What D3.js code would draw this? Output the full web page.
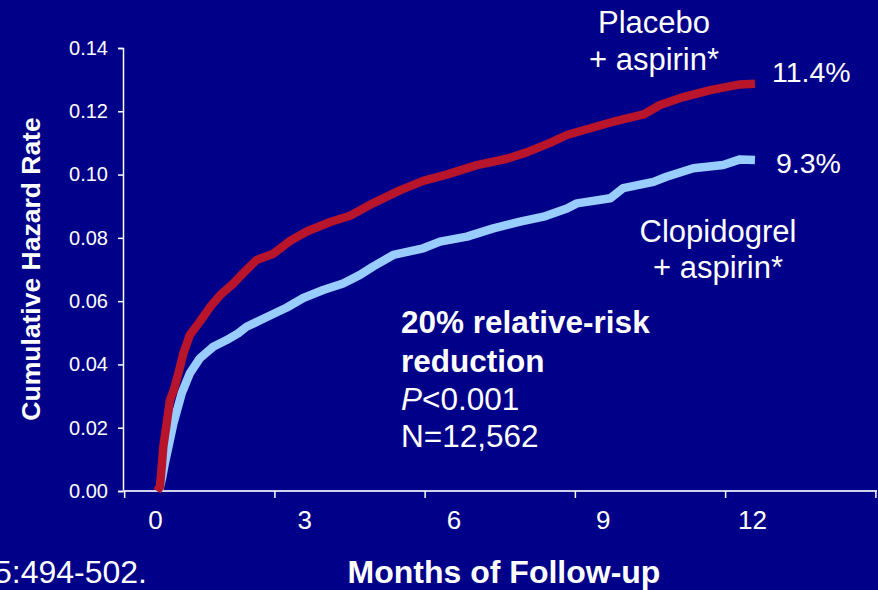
<!DOCTYPE html>
<html>
<head>
<meta charset="utf-8">
<script src="https://cdn.jsdelivr.net/npm/d3@7"></script>
<style>
  html, body { margin: 0; padding: 0; background: #000088; overflow: hidden; }
  text { font-family: Arial, "Liberation Sans", sans-serif; fill: #ffffff; }
</style>
</head>
<body>
<div id="chart"></div>
<script>
const navy = "#000088";
const red = "#b8142b";
const lightBlue = "#99ccff";
const white = "#ffffff";

// data (months of follow-up, cumulative hazard)
const placeboMonths = [0.04, 0.10, 0.135, 0.167, 0.235, 0.30, 0.38, 0.47, 0.57, 0.70, 0.90, 1.11, 1.31, 1.57, 1.77, 2.04, 2.38, 2.71, 3.05, 3.52, 3.92,
    4.39, 4.92, 5.39, 5.86, 6.47, 7.07, 7.47, 7.94, 8.28, 8.61, 9.28, 9.82, 10.15, 10.62, 11.16, 11.76, 12.06];
const placeboHazard = [0.000, 0.0014, 0.0077, 0.014, 0.0214, 0.0287, 0.032, 0.0372, 0.0435, 0.0493, 0.0535, 0.0582, 0.0619, 0.0655, 0.0688, 0.073, 0.075, 0.079, 0.082, 0.085, 0.087,
    0.091, 0.095, 0.098, 0.100, 0.103, 0.105, 0.107, 0.110, 0.1125, 0.114, 0.117, 0.119, 0.122, 0.1245, 0.1267, 0.1285, 0.1287];

const clopMonths = [0.08, 0.14, 0.20, 0.27, 0.37, 0.54, 0.70, 0.90, 1.17, 1.44, 1.67, 1.84, 2.25, 2.65, 2.98, 3.38, 3.78, 4.12,
    4.39, 4.79, 5.39, 5.73, 6.27, 6.80, 7.34, 7.81, 8.28, 8.48, 9.15, 9.41, 10.02, 10.28, 10.82, 11.42, 11.76, 12.06];
const clopHazard = [0.000, 0.004, 0.009, 0.014, 0.0214, 0.031, 0.0372, 0.0419, 0.0456, 0.0477, 0.0498, 0.0519, 0.055, 0.058, 0.061, 0.0635, 0.0656, 0.0683,
    0.071, 0.0746, 0.0767, 0.0788, 0.0804, 0.083, 0.0851, 0.0867, 0.0893, 0.0909, 0.0925, 0.0957, 0.0977, 0.0993, 0.102, 0.103, 0.1048, 0.1046];

const xTickLabels = [0, 3, 6, 9, 12];
const xTickMarks = [-0.62, 2.4, 5.42, 8.44, 11.46, 14.48];
const yTickLabels = [0, 0.02, 0.04, 0.06, 0.08, 0.10, 0.12, 0.14];

const width = 878, height = 590;

const svg = d3.select("#chart")
    .append("svg")
    .attr("width", width)
    .attr("height", height);

svg.append("rect")
    .attr("width", width)
    .attr("height", height)
    .attr("fill", navy);

const x = d3.scaleLinear().domain([0, 12]).range([155, 752]);
const y = d3.scaleLinear().domain([0, 0.14]).range([491, 48]);

// y axis
const yAxis = svg.append("g")
    .attr("transform", `translate(${123},0)`)
    .call(d3.axisLeft(y).tickValues(yTickLabels).tickFormat(d3.format(".2f")).tickSize(5).tickPadding(10));
yAxis.select(".domain").attr("stroke", white).attr("stroke-width", 1.5);
yAxis.selectAll(".tick line").attr("stroke", white).attr("stroke-width", 1.5);
yAxis.selectAll(".tick text").attr("fill", white).style("font-size", "20px");

// x axis: line + tick marks between categories, labels centred on months
const xAxisLine = svg.append("g")
    .attr("transform", `translate(0,${y(0)})`)
    .call(d3.axisBottom(x).tickValues(xTickMarks).tickSize(7).tickFormat(""));
xAxisLine.select(".domain").attr("d", `M123,0H877`).attr("stroke", "#d0d0ec").attr("stroke-width", 2);
xAxisLine.selectAll(".tick line").attr("stroke", white).attr("stroke-width", 1.5);

const xAxisLabels = svg.append("g")
    .attr("transform", `translate(0,${y(0)})`)
    .call(d3.axisBottom(x).tickValues(xTickLabels).tickSize(0).tickPadding(20));
xAxisLabels.select(".domain").remove();
xAxisLabels.selectAll(".tick text").attr("fill", white).style("font-size", "26px");

// curves
const line = d3.line()
    .x(d => x(d[0]))
    .y(d => y(d[1]))
    .curve(d3.curveLinear);

svg.append("path")
    .datum(clopMonths.map((m, i) => [m, clopHazard[i]]))
    .attr("d", line)
    .attr("fill", "none")
    .attr("stroke", lightBlue)
    .attr("stroke-width", 8.5)
    .attr("stroke-linejoin", "round");

svg.append("path")
    .datum(placeboMonths.map((m, i) => [m, placeboHazard[i]]))
    .attr("d", line)
    .attr("fill", "none")
    .attr("stroke", red)
    .attr("stroke-width", 8.5)
    .attr("stroke-linejoin", "round");

// axis titles
svg.append("text")
    .attr("transform", `translate(40,269) rotate(-90)`)
    .attr("text-anchor", "middle")
    .style("font-size", "26.5px")
    .style("font-weight", "bold")
    .text("Cumulative Hazard Rate");

svg.append("text")
    .attr("x", 504)
    .attr("y", 583)
    .attr("text-anchor", "middle")
    .style("font-size", "32px")
    .style("font-weight", "bold")
    .text("Months of Follow-up");

svg.append("text")
    .attr("x", 147)
    .attr("y", 583)
    .attr("text-anchor", "end")
    .style("font-size", "32px")
    .text("5:494-502.");

// series labels
const seriesLabel = (cx, lines) => {
    lines.forEach(([txt, by]) => {
        svg.append("text")
            .attr("x", cx)
            .attr("y", by)
            .attr("text-anchor", "middle")
            .style("font-size", "31px")
            .text(txt);
    });
};
seriesLabel(654, [["Placebo", 33], ["+ aspirin*", 70]]);
seriesLabel(718, [["Clopidogrel", 242], ["+ aspirin*", 278]]);

svg.append("text").attr("x", 772).attr("y", 82).style("font-size", "28.5px").text("11.4%");
svg.append("text").attr("x", 776).attr("y", 173).style("font-size", "28.5px").text("9.3%");

// annotation
const note = svg.append("text").attr("x", 401).style("font-size", "31.5px");
note.append("tspan").attr("x", 401).attr("y", 333).style("font-weight", "bold").text("20% relative-risk");
note.append("tspan").attr("x", 401).attr("y", 372).style("font-weight", "bold").text("reduction");
const pLine = note.append("tspan").attr("x", 401).attr("y", 410);
pLine.append("tspan").style("font-style", "italic").text("P");
pLine.append("tspan").text("<0.001");
note.append("tspan").attr("x", 401).attr("y", 447).text("N=12,562");
</script>
</body>
</html>
